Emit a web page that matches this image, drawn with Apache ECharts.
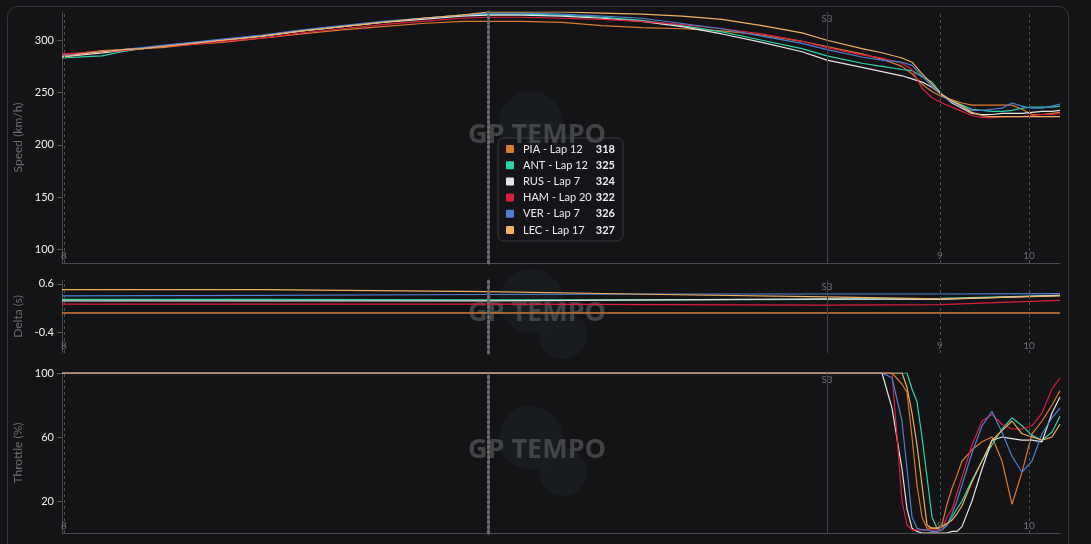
<!DOCTYPE html>
<html><head><meta charset="utf-8">
<script src="https://cdn.jsdelivr.net/npm/echarts@6/dist/echarts.min.js"></script>
<style>html,body{margin:0;padding:0;background:#131316;}#c{width:1091px;height:544px;}</style>
</head><body><div id="c"></div>
<script>
// ---------- data ----------
const drivers = ['PIA', 'ANT', 'RUS', 'HAM', 'VER', 'LEC'];
const laps = [12, 12, 7, 20, 7, 17];
const colors = ['#d97a2e', '#2fd3a6', '#e4e4e4', '#dc1e3e', '#4d7fd4', '#f0b062'];

const distance = [0,20,40,60,80,100,130,160,200,240,280,320,360,400,426,460,500,540,580,620,660,700,740,765,800,820,840,850,860,870,880,890,900,910,920,930,940,950,960,970,980,990,998];
const speedPIA = [286,288,290,291,292,293,296,298,302,306,310,313,316,318,318,318,317,314,312,311,309,305,299,294,287,282,275,268,258,251,246,243,240,238,238,238,238,238,234,229,229,230,231];
const speedANT = [283,284,285,289,292,294,297,300,304,309,313,317,321,324,325,325,324,322,319,314,308,300,292,285,278,275,272,271,265,260,248,242,238,234,233,232,232,233,235,236,236,236,237];
const speedRUS = [284,286,288,290,292,294,297,300,304,309,313,317,320,323,324,324,323,321,318,313,306,298,289,281,274,270,266,263,260,255,248,240,235,230,229,229,230,230,230,231,232,232,233];
const speedHAM = [287,288,289,290,292,294,296,299,302,307,311,315,318,321,322,322,321,320,318,315,311,306,299,293,286,283,278,272,254,245,240,236,232,228,226,226,227,227,227,228,229,229,230];
const speedVER = [285,287,289,291,293,295,298,301,305,310,314,318,321,324,326,326,325,323,321,316,311,304,297,291,284,281,279,276,266,256,247,241,236,233,233,234,235,240,237,235,235,237,239];
const speedLEC = [284,287,289,291,292,294,297,300,304,309,313,317,321,324,327,327,327,326,325,323,320,314,307,300,292,288,283,279,268,258,248,242,237,231,228,227,227,227,227,227,227,227,227];

const deltaDistance = [0, 200, 426, 600, 765, 878, 998];
const deltaPIA = [0, 0, 0, 0, 0, 0, 0];
const deltaANT = [0.28, 0.28, 0.27, 0.27, 0.28, 0.30, 0.36];
const deltaRUS = [0.25, 0.25, 0.25, 0.27, 0.29, 0.28, 0.36];
const deltaHAM = [0.18, 0.18, 0.18, 0.17, 0.16, 0.17, 0.26];
const deltaVER = [0.35, 0.36, 0.38, 0.39, 0.39, 0.39, 0.40];
const deltaLEC = [0.48, 0.48, 0.44, 0.38, 0.33, 0.29, 0.35];

const throttleDistance = [0,800,820,830,840,845,850,855,860,865,870,875,880,885,890,895,900,910,920,930,940,950,960,970,980,990,998];
const throttlePIA = [100,100,100,100,93,88,60,30,10,3,3,3,5,18,28,36,45,52,57,60,45,18,38,62,70,80,89];
const throttleANT = [100,100,100,100,100,100,90,82,60,35,10,3,2,5,10,15,20,33,45,55,65,72,67,61,58,63,73];
const throttleRUS = [100,100,100,78,40,15,3,1,0,0,0,0,0,0,1,1,4,20,40,58,60,59,58,58,57,75,85];
const throttleHAM = [100,100,100,100,20,5,2,2,2,2,2,2,2,10,15,25,35,55,70,74,68,65,65,67,75,90,97];
const throttleVER = [100,100,100,97,70,40,10,3,2,2,1,1,2,5,12,20,30,50,67,76,63,48,38,45,62,72,78];
const throttleLEC = [100,100,100,100,100,91,75,55,30,5,3,3,4,6,8,12,17,32,45,58,64,70,62,60,58,60,68];

const turnNames = ['8', '9', '10'];
const turnDistance = [2, 878, 967];
const sectorName = 'S3';
const sectorDistance = 765;
const cursorDistance = 426;

const speedTicks = [100, 150, 200, 250, 300];
const deltaTicks = [-0.4, 0.6];
const throttleTicks = [20, 60, 100];

const speedSets = [speedPIA, speedANT, speedRUS, speedHAM, speedVER, speedLEC];
const deltaSets = [deltaPIA, deltaANT, deltaRUS, deltaHAM, deltaVER, deltaLEC];
const throttleSets = [throttlePIA, throttleANT, throttleRUS, throttleHAM, throttleVER, throttleLEC];

// ---------- chart ----------
const chart = echarts.init(document.getElementById('c'));
const FONT = 'Lato, "Open Sans", sans-serif';
const axisRanges = [[87, 327], [-0.83, 0.68], [0, 100]];
const grids = [
  { left: 62, right: 31, top: 12, height: 251 },
  { left: 62, right: 31, top: 280, height: 73 },
  { left: 62, right: 31, top: 373, height: 160 }
];
const names = ['Speed (km/h)', 'Delta (s)', 'Throttle (%)'];
const ticks = [speedTicks, deltaTicks, throttleTicks];

const xAxes = grids.map((g, i) => ({
  type: 'value', gridIndex: i, min: 0, max: 998,
  axisLine: { show: true, lineStyle: { color: '#4a4a4e', width: 1 } },
  axisTick: { show: false }, axisLabel: { show: false }, splitLine: { show: false }
}));
const yAxes = grids.map((g, i) => ({
  type: 'value', gridIndex: i, min: axisRanges[i][0], max: axisRanges[i][1],
  name: names[i], nameLocation: 'middle', nameGap: 28,
  nameTextStyle: { color: '#6c6c70', fontSize: 12, fontFamily: FONT },
  axisLine: { show: true, lineStyle: { color: '#4a4a4e' } },
  axisTick: { show: true, length: 5, customValues: ticks[i], lineStyle: { color: '#55555a' } },
  axisLabel: { customValues: ticks[i], color: '#f0f0f0', fontSize: 11, margin: 8, fontFamily: FONT },
  splitLine: { show: false }
}));

const series = [];
const panelSets = [[distance, speedSets], [deltaDistance, deltaSets], [throttleDistance, throttleSets]];
panelSets.forEach(([xs, sets], gi) => {
  sets.forEach((arr, si) => {
    series.push({
      type: 'line', name: drivers[si] + '-' + gi, xAxisIndex: gi, yAxisIndex: gi,
      data: xs.map((d, k) => [d, arr[k]]),
      showSymbol: false, smooth: false, z: 3,
      lineStyle: { color: colors[si], width: 1.2 }, itemStyle: { color: colors[si] }
    });
  });
  const ymin = axisRanges[gi][0], ymax = axisRanges[gi][1];
  const dashed = { type: [3, 3], color: '#4f4f54', width: 1 };
  series.push({
    type: 'scatter', xAxisIndex: gi, yAxisIndex: gi, clip: false, silent: true,
    symbolSize: 1, itemStyle: { color: 'transparent' }, z: 4,
    data: turnDistance.map((d, k) => ({ value: [d, ymin], label: { formatter: turnNames[k], position: 'top', distance: 2 } }))
      .concat([{ value: [sectorDistance, ymax], label: { formatter: sectorName, position: 'bottom', distance: 1 } }]),
    label: { show: true, color: '#85858a', fontSize: 10, fontFamily: FONT },
    markLine: {
      silent: true, symbol: ['none', 'none'], label: { show: false }, animation: false,
      data: turnDistance.map(d => ({ xAxis: d, lineStyle: dashed }))
        .concat([
          { xAxis: sectorDistance, lineStyle: { type: 'solid', color: '#3f3f44', width: 1 } },
          { xAxis: cursorDistance, lineStyle: { type: [2, 3], color: '#6a6a6e', width: 3, cap: 'round' } }
        ])
    }
  });
});

chart.setOption({
  backgroundColor: '#131316',
  animation: false,
  grid: grids,
  xAxis: xAxes,
  yAxis: yAxes,
  series: series
});

// ---------- decorations: card, watermark, cursor readout ----------
function watermark(cx, cy) {
  return {
    type: 'group', z: 0, silent: true,
    children: [
      { type: 'circle', shape: { cx: cx - 6, cy: cy - 12, r: 32 }, style: { fill: '#1b2324', opacity: 0.55 }, z: 0 },
      { type: 'circle', shape: { cx: cx + 26, cy: cy + 22, r: 24 }, style: { fill: '#1b2324', opacity: 0.55 }, z: 0 },
      { type: 'text', x: cx, y: cy, z: 1, style: { text: 'GP TEMPO', fill: '#54575a', opacity: 0.7, font: 'bold 27px "Open Sans", sans-serif', align: 'center', verticalAlign: 'middle' } }
    ]
  };
}
const cursorPx = chart.convertToPixel({ xAxisIndex: 0 }, cursorDistance);
const ci = distance.indexOf(cursorDistance);
const boxLeft = cursorPx + 10, boxTop = 138, rowH = 16.2;
const tipChildren = [
  { type: 'rect', shape: { x: boxLeft, y: boxTop, width: 125, height: 103, r: 6 }, style: { fill: 'rgba(22,22,26,0.92)', stroke: '#3a3a3f', lineWidth: 1 } }
];
drivers.forEach((d, i) => {
  const y = boxTop + 11 + i * rowH;
  tipChildren.push({ type: 'rect', shape: { x: boxLeft + 8, y: y - 4, width: 8, height: 8, r: 1 }, style: { fill: colors[i] } });
  tipChildren.push({ type: 'text', x: boxLeft + 25, y: y, style: { text: d + ' - Lap ' + laps[i], fill: '#ececec', font: '11px ' + FONT, verticalAlign: 'middle' } });
  tipChildren.push({ type: 'text', x: boxLeft + 117, y: y, style: { text: String(speedSets[i][ci]), fill: '#ececec', font: 'bold 11px ' + FONT, align: 'right', verticalAlign: 'middle' } });
});

chart.setOption({
  graphic: [
    { type: 'rect', z: -10, silent: true, shape: { x: 7.5, y: 6.5, width: 1061, height: 600, r: 10 }, style: { fill: '#141417', stroke: '#38383c', lineWidth: 1 } },
    watermark(537, 135),
    watermark(537, 313),
    watermark(537, 450),
    { type: 'group', z: 100, children: tipChildren }
  ]
});
</script>
</body></html>
